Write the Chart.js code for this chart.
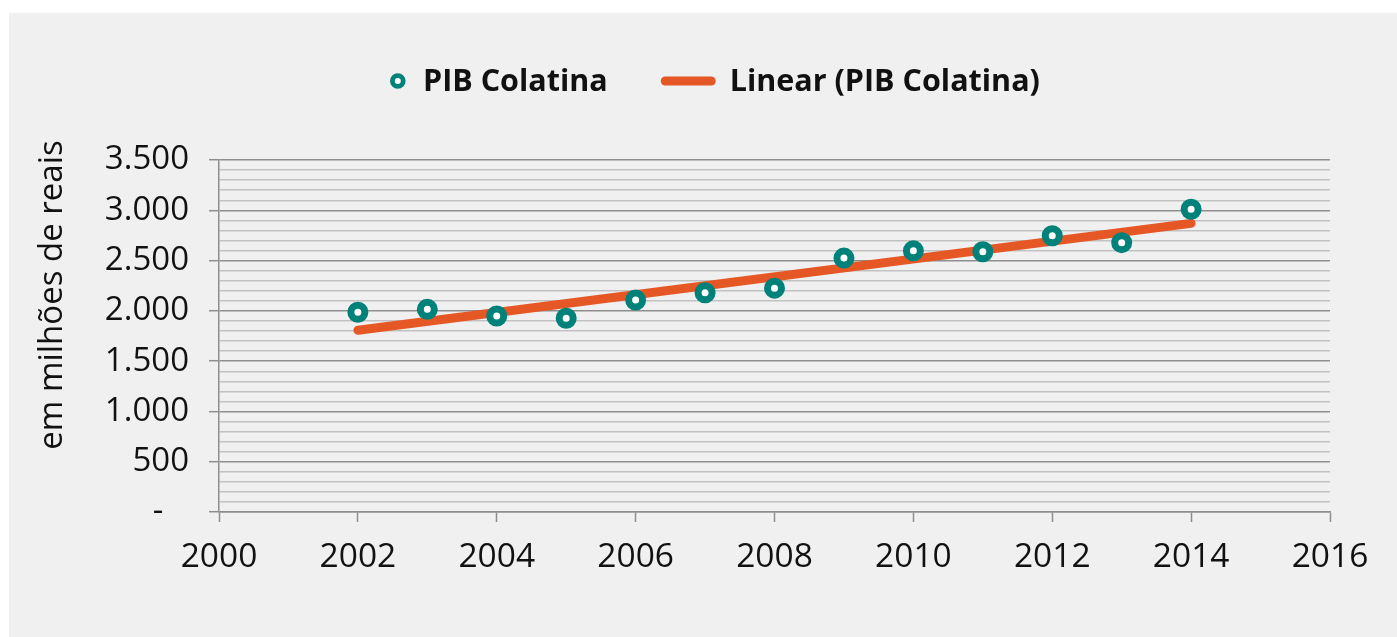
<!DOCTYPE html>
<html lang="pt-BR">
<head>
<meta charset="utf-8">
<title>PIB Colatina</title>
<script src="https://cdn.jsdelivr.net/npm/chart.js@4.4.1/dist/chart.umd.min.js"></script>
<style>
    body { margin: 0; background: #fff; }
    .chart-box {
        position: absolute;
        left: 9px;
        top: 13px;
        width: 1388px;
        height: 624px;
        background: #f0f0f0;
    }
</style>
</head>
<body>
<div class="chart-box"><canvas id="myChart"></canvas></div>
<script>
// Dados

const years = [2002, 2003, 2004, 2005, 2006, 2007, 2008, 2009, 2010, 2011, 2012, 2013, 2014]
const pibValues = [1986, 2015, 1949, 1926, 2107, 2180, 2226, 2525, 2597, 2588, 2747, 2678, 3010]
const trendYears = [2002, 2014]
const trendValues = [1807, 2870]
const seriesLabels = ['PIB Colatina', 'Linear (PIB Colatina)']
const yTitle = 'em milhões de reais'

const teal = '#00817a'
const orange = '#e55826'
const majorGrid = '#8e8e8e'
const minorGrid = '#c2c2c2'

function fmtY(v) {
    if (v === 0) return '-   '
    return String(v).replace(/\B(?=(\d{3})+(?!\d))/g, '.')
}

// Legenda e título do eixo desenhados à mão

const extras = {
    id: 'extras',
    afterDraw(chart) {
        const ctx = chart.ctx
        ctx.save()

        // título do eixo Y
        ctx.font = '33px "Open Sans"'
        ctx.fillStyle = '#111'
        ctx.textAlign = 'center'
        ctx.textBaseline = 'middle'
        ctx.translate(44, 282)
        ctx.rotate(-Math.PI / 2)
        ctx.fillText(yTitle, 0, 0)
        ctx.setTransform(1, 0, 0, 1, 0, 0)

        // legenda
        const cy = 68
        let x = 381
        ctx.font = 'bold 30.5px "Open Sans"'
        ctx.textAlign = 'left'
        ctx.textBaseline = 'middle'

        ctx.beginPath()
        ctx.arc(x + 7.8, cy, 5.4, 0, Math.PI * 2)
        ctx.fillStyle = '#fff'
        ctx.fill()
        ctx.lineWidth = 4.8
        ctx.strokeStyle = teal
        ctx.stroke()
        ctx.fillStyle = '#111'
        ctx.fillText(seriesLabels[0], x + 33, cy + 1)
        x = x + 33 + ctx.measureText(seriesLabels[0]).width + 53

        ctx.beginPath()
        ctx.moveTo(x + 4.5, cy)
        ctx.lineTo(x + 50.5, cy)
        ctx.lineWidth = 9
        ctx.lineCap = 'round'
        ctx.strokeStyle = orange
        ctx.stroke()
        ctx.fillStyle = '#111'
        ctx.fillText(seriesLabels[1], x + 69, cy + 1)

        ctx.restore()
    }
}

// Gráfico

const ctx = document.getElementById('myChart').getContext('2d')

const myChart = new Chart(ctx, {
    type: 'line',
    data: {
        datasets: [{
            label: seriesLabels[0],
            data: years.map((y, i) => ({ x: y, y: pibValues[i] })),
            showLine: false,
            pointRadius: 7,
            pointHoverRadius: 7,
            pointBorderWidth: 7,
            pointBackgroundColor: '#fff',
            pointBorderColor: teal,
            order: 0
        }, {
            label: seriesLabels[1],
            data: trendYears.map((y, i) => ({ x: y, y: trendValues[i] })),
            borderColor: orange,
            borderWidth: 9,
            borderCapStyle: 'round',
            pointRadius: 0,
            order: 1
        }]
    },
    options: {
        responsive: true,
        maintainAspectRatio: false,
        animation: false,
        layout: {
            padding: { top: 147, left: 0, right: 67, bottom: 65 }
        },
        plugins: {
            legend: { display: false },
            tooltip: { enabled: false }
        },
        scales: {
            x: {
                type: 'linear',
                min: 2000,
                max: 2016,
                afterFit: (scale) => { scale.height = 60 },
                border: { color: majorGrid, width: 1.5 },
                grid: {
                    drawOnChartArea: false,
                    tickLength: 10,
                    tickColor: majorGrid,
                    tickWidth: 1.5
                },
                ticks: {
                    stepSize: 2,
                    padding: 15,
                    color: '#111',
                    font: { family: 'Open Sans', size: 33.5 },
                    callback: (v) => String(v)
                }
            },
            y: {
                min: 0,
                max: 3500,
                afterFit: (scale) => { scale.width = 210 },
                border: { color: majorGrid, width: 1.5 },
                grid: {
                    color: (c) => c.tick && c.tick.value % 500 === 0 ? majorGrid : minorGrid,
                    lineWidth: 1.4,
                    tickLength: 10,
                    tickColor: (c) => c.tick && c.tick.value % 500 === 0 ? majorGrid : 'rgba(0,0,0,0)',
                    tickWidth: 1.5
                },
                ticks: {
                    stepSize: 100,
                    maxTicksLimit: 100,
                    autoSkip: false,
                    padding: 20,
                    color: '#111',
                    font: { family: 'Open Sans', size: 33 },
                    callback: (v) => v % 500 === 0 ? fmtY(v) : ''
                }
            }
        }
    },
    plugins: [extras]
})
</script>
</body>
</html>
